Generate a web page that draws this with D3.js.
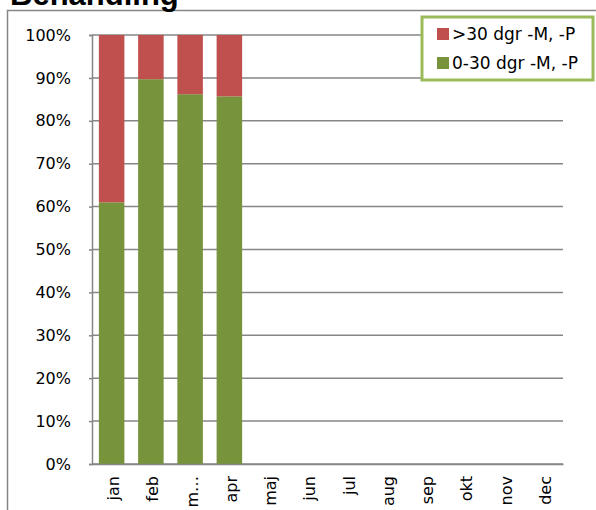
<!DOCTYPE html>
<html>
<head>
<meta charset="utf-8">
<script src="https://cdn.jsdelivr.net/npm/d3@7/dist/d3.min.js"></script>
<style>
  body { margin: 0; background: #fff; }
  svg { display: block; }
  text { font-family: "DejaVu Sans", "Open Sans", sans-serif; fill: #000; }
</style>
</head>
<body>
<svg id="chart" width="596" height="510"></svg>
<script>
// data
var months = ["jan", "feb", "m\u2026", "apr", "maj", "jun", "jul", "aug", "sep", "okt", "nov", "dec"];
var low_share = [0.610, 0.897, 0.862, 0.857, 0, 0, 0, 0, 0, 0, 0, 0];   // 0-30 dgr -M, -P
var high_share = [0.390, 0.103, 0.138, 0.143, 0, 0, 0, 0, 0, 0, 0, 0]; // >30 dgr -M, -P
var y_ticks = [0, 0.1, 0.2, 0.3, 0.4, 0.5, 0.6, 0.7, 0.8, 0.9, 1];
var series_names = ["0-30 dgr -M, -P", ">30 dgr -M, -P"];
var series_colors = ["#77933C", "#C0504D"];

const margin = {top: 35, right: 33, bottom: 46, left: 92};
const width = 596, height = 510;

var svg = d3.select("#chart");

// outer chart border (only top and left visible in the crop)
svg.append("path")
  .attr("d", "M7.5," + height + "V10.5H" + width)
  .attr("fill", "none")
  .attr("stroke", "#868686")
  .attr("stroke-width", 1.5);

// title, cut by the top edge
svg.append("text")
  .attr("x", 10)
  .attr("y", 5)
  .style("font-family", "'Liberation Sans', Arial, sans-serif")
  .style("font-weight", "bold")
  .style("font-size", "31px")
  .text("Behandling");

var x = d3.scaleBand()
  .domain(months)
  .range([margin.left, width - margin.right])
  .paddingInner(0.35)
  .paddingOuter(0.175);

var y = d3.scaleLinear()
  .domain([0, 1])
  .range([height - margin.bottom, margin.top]);

// gridlines
svg.append("g").selectAll("line")
  .data(y_ticks)
  .enter().append("line")
  .attr("x1", margin.left)
  .attr("x2", width - margin.right)
  .attr("y1", d => y(d))
  .attr("y2", d => y(d))
  .attr("stroke", "#868686")
  .attr("stroke-width", 1.5);

// y axis
var yAxis = svg.append("g")
  .attr("transform", "translate(" + margin.left + ",0)")
  .call(d3.axisLeft(y).tickValues(y_ticks).tickFormat(d3.format(".0%")).tickSize(3).tickPadding(18));
yAxis.select(".domain").attr("stroke", "#868686").attr("stroke-width", 1.5);
yAxis.selectAll(".tick line").attr("stroke", "#868686").attr("stroke-width", 1.5);
yAxis.selectAll("text").style("font-size", "16px").attr("fill", "#000");

// stacked bars
var table = months.map((m, i) => ({month: m, low: low_share[i], high: high_share[i]}));
var stacked = d3.stack().keys(["low", "high"])(table);

svg.append("g").selectAll("g")
  .data(stacked)
  .enter().append("g")
  .attr("fill", (d, i) => series_colors[i])
  .selectAll("rect")
  .data(d => d)
  .enter().append("rect")
  .attr("x", d => x(d.data.month))
  .attr("width", x.bandwidth())
  .attr("y", d => y(d[1]))
  .attr("height", d => y(d[0]) - y(d[1]));

// x axis
var xAxis = svg.append("g")
  .attr("transform", "translate(0," + y(0) + ")")
  .call(d3.axisBottom(x).tickSize(0));
xAxis.select(".domain").attr("stroke", "#868686").attr("stroke-width", 1.5);
xAxis.selectAll("text")
  .style("font-size", "16px")
  .attr("fill", "#000")
  .style("text-anchor", "end")
  .attr("transform", "rotate(-90)")
  .attr("x", -12)
  .attr("y", 2)
  .attr("dx", 0)
  .attr("dy", "0.35em");

// legend
var legend = svg.append("g").attr("transform", "translate(422,17)");
legend.append("rect")
  .attr("width", 171)
  .attr("height", 63)
  .attr("fill", "#fff")
  .attr("stroke", "#9BBB59")
  .attr("stroke-width", 3);

var legend_order = [1, 0];
legend.selectAll(".item")
  .data(legend_order)
  .enter().append("g")
  .attr("class", "item")
  .attr("transform", (d, i) => "translate(15," + (11 + i * 29) + ")")
  .each(function(d) {
    var g = d3.select(this);
    g.append("rect").attr("width", 12).attr("height", 12).attr("fill", series_colors[d]);
    g.append("text").attr("x", 15).attr("y", 12).style("font-size", "17px").text(series_names[d]);
  });
</script>
</body>
</html>
